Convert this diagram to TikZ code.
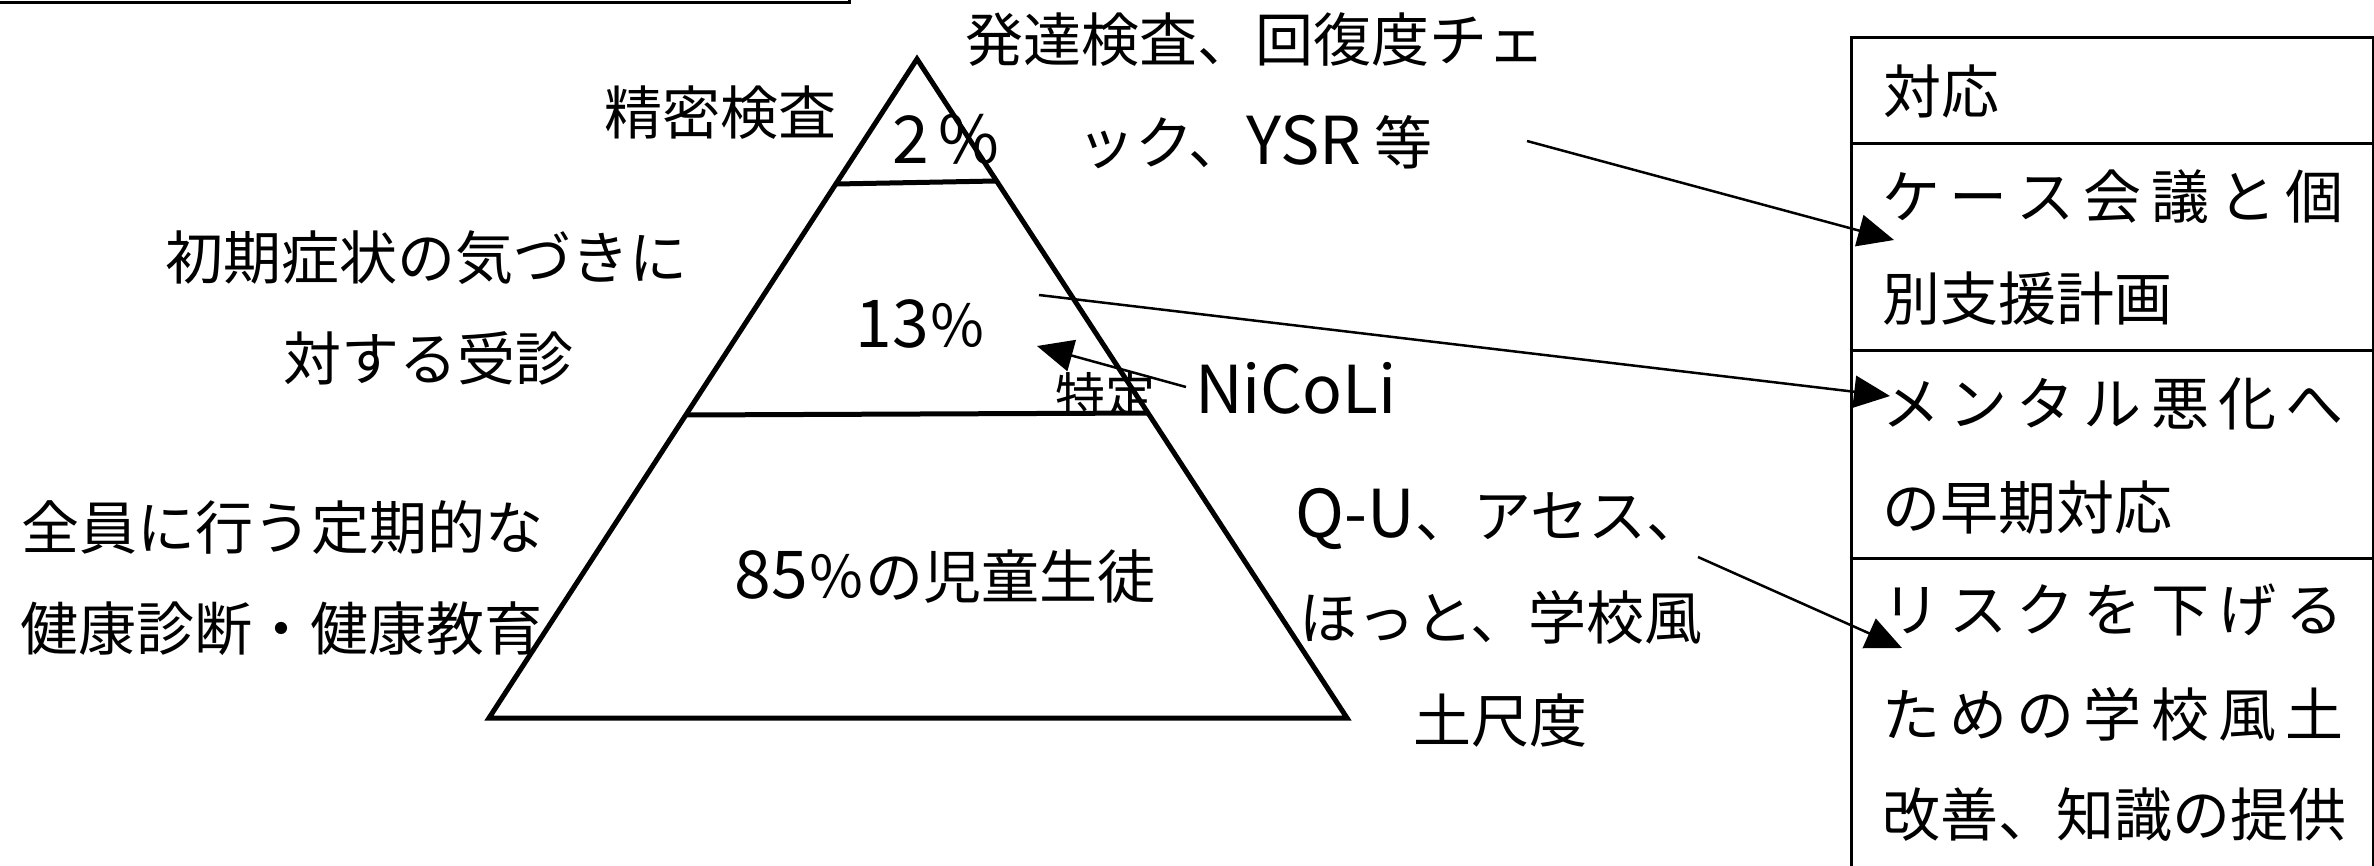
\documentclass[tikz,border=0pt]{standalone}
\usepackage{fontspec}
\setmainfont{Noto Sans CJK JP}
\usetikzlibrary{arrows.meta,calc}
\newcommand\lt[1]{{\fontsize{66}{70}\selectfont #1}}
\newcommand\sprd[1]{\makebox[462pt][s]{#1}}
\begin{document}
\begin{tikzpicture}[x=1pt,y=-1pt,
  txt/.style={font=\fontsize{58}{60}\selectfont, inner sep=0pt, outer sep=0pt},
  pyr/.style={line width=5pt, line join=miter},
  conn/.style={line width=2.5pt, -{Triangle[length=36pt,width=32pt]}},
  tab/.style={line width=2.5pt},
  rowbox/.style={draw, line width=2.5pt, anchor=north west, minimum width=522pt, inner sep=0pt}]
\useasboundingbox (0,0) rectangle (2374,865);

% top-left frame edge
\draw[line width=3pt] (0,2) -- (849,2) -- (849,0);

% pyramid
\coordinate (A) at (917,59);
\coordinate (BL) at (489,718);
\coordinate (BR) at (1347,718);
\draw[pyr] (A) -- (BL) -- (BR) -- cycle;
\draw[pyr] ($(A)!0.1897!(BL)$) -- ($(A)!0.1851!(BR)$);
\draw[pyr] ($(A)!0.5402!(BL)$) -- ($(A)!0.5372!(BR)$);

% pyramid labels
\node[txt,anchor=base] (p2) at (946,163) {\lt{2}\hspace{10pt}\lt{\%}};
\node[txt,anchor=base] (p13) at (921,347) {\lt{13}％};
\node[txt,anchor=base] (p85) at (945,598) {\lt{85}％の児童生徒};

% left texts
\node[txt,anchor=base] (seimitsu) at (720,134) {精密検査};
\node[txt,anchor=base] (shoki1) at (426,279) {初期症状の気づきに};
\node[txt,anchor=base] (shoki2) at (428,380) {対する受診};
\node[txt,anchor=base] (zenin1) at (282,549) {全員に行う定期的な};
\node[txt,anchor=base] (zenin2) at (281,650) {健康診断・健康教育};

% right-of-pyramid texts
\node[txt,anchor=base] (hat1) at (1255,61) {発達検査、回復度チェ};
\node[txt,anchor=base] (hat2) at (1255,164) {ック、\lt{YSR} 等};
\node[txt,anchor=base] (qu1) at (1500,537) {\lt{Q-U}、アセス、};
\node[txt,anchor=base] (qu2) at (1501,639) {ほっと、学校風};
\node[txt,anchor=base] (qu3) at (1500,742) {土尺度};
\begin{scope}
\clip (1040,355) rectangle (1170,412);
\node[font=\fontsize{50}{52}\selectfont, inner sep=0pt, anchor=base west] (tokutei) at (1055,414) {特定};
\end{scope}
\node[txt,anchor=base west] (nicoli) at (1195,413) {\lt{NiCoLi}};

% response table
\node[rowbox, minimum height=106pt] (row0) at (1850,36) {};
\node[rowbox, minimum height=207pt] (row1) at (1850,142) {};
\node[rowbox, minimum height=208pt] (row2) at (1850,349) {};
\node[rowbox, minimum height=340pt] (row3) at (1850,557) {};

\node[txt,anchor=base west] (t0) at (1883,113) {対応};
\node[txt,anchor=base west] (t1a) at (1882,218) {\sprd{ケ\hfill ー\hfill ス\hfill 会\hfill 議\hfill と\hfill 個}};
\node[txt,anchor=base west] (t1b) at (1882,320) {別支援計画};
\node[txt,anchor=base west] (t2a) at (1882,425) {\sprd{メ\hfill ン\hfill タ\hfill ル\hfill 悪\hfill 化\hfill へ}};
\node[txt,anchor=base west] (t2b) at (1882,529) {の早期対応};
\node[txt,anchor=base west] (t3a) at (1882,631) {\sprd{リ\hfill ス\hfill ク\hfill を\hfill 下\hfill げ\hfill る}};
\node[txt,anchor=base west] (t3b) at (1882,736) {\sprd{た\hfill め\hfill の\hfill 学\hfill 校\hfill 風\hfill 土}};
\node[txt,anchor=base west] (t3c) at (1882,836) {\sprd{改\hfill 善\hfill 、\hfill 知\hfill 識\hfill の\hfill 提\hfill 供}};

% connectors
\coordinate (s1) at (1527,141); \coordinate (e1) at (1894,240);
\coordinate (s2) at (1039,295); \coordinate (e2) at (1890,396);
\coordinate (s3) at (1698,557); \coordinate (e3) at (1902,648);
\coordinate (s4) at (1186,387); \coordinate (e4) at (1037,346);
\draw[conn] (s1) -- (e1);
\draw[conn] (s2) -- (e2);
\draw[conn] (s3) -- (e3);
\draw[conn] (s4) -- (e4);
\end{tikzpicture}
\end{document}
